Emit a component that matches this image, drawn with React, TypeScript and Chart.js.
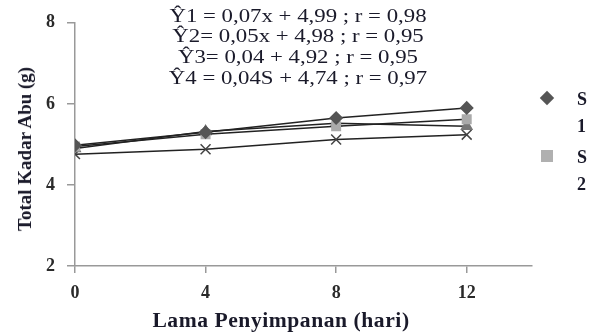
import React, { useEffect, useRef } from "react";
import { Chart, registerables } from "chart.js";

Chart.register(...registerables);

const days = [0, 4, 8, 12];
const s1 = [4.98, 5.3, 5.65, 5.9];
const s2 = [4.95, 5.25, 5.45, 5.62];
const s3 = [4.9, 5.32, 5.52, 5.45];
const s4 = [4.76, 4.88, 5.12, 5.24];
const yTicks = [2, 4, 6, 8];
const equations = [
  "Ŷ1 = 0,07x + 4,99 ; r = 0,98",
  "Ŷ2= 0,05x + 4,98 ; r = 0,95",
  "Ŷ3= 0,04 + 4,92 ; r = 0,95",
  "Ŷ4 = 0,04S + 4,74 ; r = 0,97",
];
const legendNames = ["S1", "S2"];
const xTitle = "Lama Penyimpanan (hari)";
const yTitle = "Total Kadar Abu (g)";

const FONT = "'Liberation Serif', 'Times New Roman', serif";

export default function App() {
  const ref = useRef<HTMLCanvasElement | null>(null);

  useEffect(() => {
    if (!ref.current) return;
    const mk = (data: number[]) => days.map((d, i) => ({ x: d, y: data[i] }));
    const base = {
      borderColor: "#222",
      borderWidth: 1.5,
      showLine: true,
      tension: 0,
    };
    const chart = new Chart(ref.current, {
      type: "scatter",
      data: {
        datasets: [
          { ...base, label: "S1", data: mk(s1), pointStyle: "rectRot", pointRadius: 6, pointBackgroundColor: "#555", pointBorderColor: "#555" },
          { ...base, label: "S2", data: mk(s2), pointStyle: "rect", pointRadius: 6, pointBackgroundColor: "#aaa", pointBorderColor: "#aaa" },
          { ...base, label: "S3", data: mk(s3), pointStyle: "triangle", pointRadius: 6, pointBackgroundColor: "#777", pointBorderColor: "#777" },
          { ...base, label: "S4", data: mk(s4), pointStyle: "crossRot", pointRadius: 7, pointBorderWidth: 1.5, pointBackgroundColor: "#444", pointBorderColor: "#444" },
        ],
      },
      options: {
        animation: false,
        responsive: false,
        layout: { padding: { top: 22, right: 65, left: 0, bottom: 0 } },
        plugins: { legend: { display: false }, tooltip: { enabled: false } },
        scales: {
          x: {
            type: "linear",
            min: 0,
            max: 14,
            afterBuildTicks: (s: any) => {
              s.ticks = days.map((v) => ({ value: v }));
            },
            afterFit: (s: any) => {
              s.height = 67;
            },
            ticks: { color: "#2a2a2a", font: { family: FONT, size: 18, weight: "bold" }, padding: 10 },
            grid: { drawOnChartArea: false, tickLength: 7, color: "#999", lineWidth: 1.5 },
            border: { color: "#999", width: 1.5 },
            title: { display: false },
          },
          y: {
            type: "linear",
            min: 2,
            max: 8,
            afterBuildTicks: (s: any) => {
              s.ticks = yTicks.map((v) => ({ value: v }));
            },
            afterFit: (s: any) => {
              s.width = 75;
            },
            ticks: { color: "#2a2a2a", font: { family: FONT, size: 18, weight: "bold" }, padding: 12 },
            grid: { drawOnChartArea: false, tickLength: 8, color: "#999", lineWidth: 1.5 },
            border: { color: "#999", width: 1.5 },
            title: { display: false },
          },
        },
      },
    });
    return () => chart.destroy();
  }, []);

  const textStyle: React.CSSProperties = {
    position: "absolute",
    fontFamily: FONT,
    color: "#1a1a2a",
    whiteSpace: "nowrap",
  };

  return (
    <div style={{ position: "fixed", left: 0, top: 0, width: 597, height: 333, background: "#fff" }}>
      <canvas ref={ref} width={597} height={333} style={{ position: "absolute", left: 0, top: 0 }} />
      {equations.map((e, i) => (
        <div
          key={i}
          style={{
            ...textStyle,
            left: 298,
            top: [6, 26, 47, 68][i],
            transform: "translateX(-50%) scaleX(1.2)",
            fontSize: 19,
            lineHeight: "20px",
          }}
        >
          {e}
        </div>
      ))}
      <div
        style={{
          ...textStyle,
          left: 281,
          top: 309,
          transform: "translateX(-50%) scaleX(1.08)",
          fontSize: 20,
          fontWeight: "bold",
          lineHeight: "22px",
          letterSpacing: "0.5px",
        }}
      >
        {xTitle}
      </div>
      <div
        style={{
          ...textStyle,
          left: 25,
          top: 149,
          transform: "translate(-50%, -50%) rotate(-90deg)",
          fontSize: 19,
          fontWeight: "bold",
          lineHeight: "20px",
        }}
      >
        {yTitle}
      </div>
      {legendNames.map((n, i) => (
        <React.Fragment key={n}>
          <div
            style={{
              position: "absolute",
              left: 541,
              top: [92, 150][i],
              width: 12,
              height: 12,
              background: i === 0 ? "#555" : "#b0b0b0",
              transform: i === 0 ? "rotate(45deg) scale(0.85)" : "none",
            }}
          />
          <div
            style={{
              ...textStyle,
              left: 577,
              top: [86, 144][i],
              fontSize: 18,
              fontWeight: "bold",
              lineHeight: "27px",
              width: 12,
              whiteSpace: "normal",
              wordBreak: "break-all",
            }}
          >
            {n}
          </div>
        </React.Fragment>
      ))}
    </div>
  );
}
